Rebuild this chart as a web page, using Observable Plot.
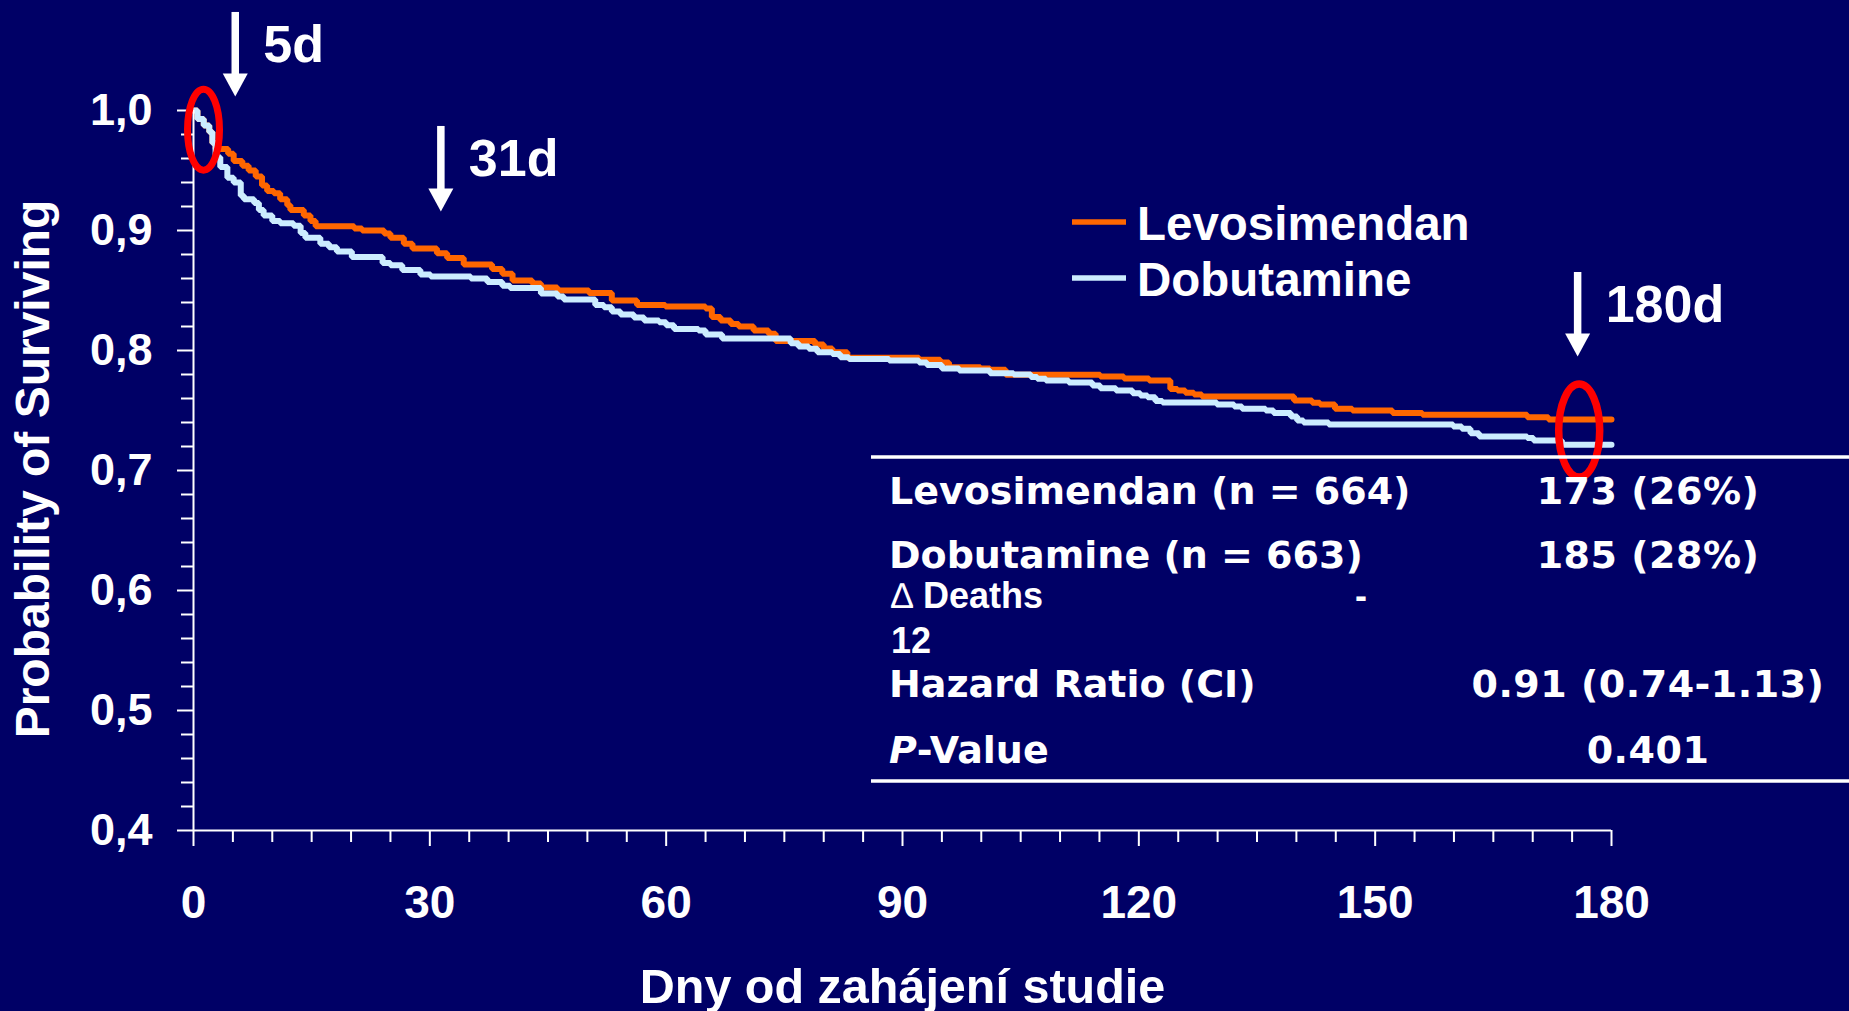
<!DOCTYPE html>
<html>
<head>
<meta charset="utf-8">
<script src="https://cdn.jsdelivr.net/npm/d3@7"></script>
<script src="https://cdn.jsdelivr.net/npm/@observablehq/plot@0.6"></script>
<style>
  html, body { margin: 0; padding: 0; background: #000066; overflow: hidden; }
  #chart { position: relative; width: 1849px; height: 1011px; }
</style>
</head>
<body>
<div id="chart"></div>
<script>
// ---------- DATA ----------
// Kaplan-Meier survival, [day, probability], step-after
const levosimendan = [
  [0,1.0],[0.5,0.993],[1.3,0.9875],[2.0,0.982],[2.4,0.973],[2.8,0.968],[4.4,0.964],[5.1,0.958],
  [6.2,0.954],[7.0,0.95],[7.9,0.945],[8.7,0.9375],[9.35,0.933],[10.2,0.931],[11.0,0.926],[11.9,0.921],
  [12.3,0.917],[14.0,0.9125],[14.85,0.908],[15.5,0.9036],[20.4,0.9017],[21.4,0.900],[24.2,0.8975],
  [25.0,0.894],[26.7,0.889],[27.8,0.885],[30.9,0.881],[32.2,0.877],[34.3,0.8717],[37.9,0.868],
  [39.2,0.864],[40.5,0.8583],[43.0,0.8558],[44.1,0.8525],[46.2,0.85],[50.2,0.848],[53.1,0.8417],
  [56.3,0.838],[59.9,0.8367],[65.0,0.835],[65.8,0.828],[66.9,0.825],[68.2,0.822],[69.2,0.82],
  [71.1,0.8167],[73.0,0.814],[73.9,0.808],[78.9,0.805],[80.0,0.8017],[81.1,0.7986],[83.0,0.794],
  [92.1,0.7922],[94.8,0.790],[95.9,0.786],[99.9,0.785],[101.1,0.784],[103.1,0.7797],[115.1,0.7783],
  [118.1,0.7767],[121.3,0.775],[124.0,0.768],[124.9,0.7667],[125.9,0.7647],[127.0,0.7633],
  [128.0,0.7617],[139.7,0.7583],[142.0,0.7564],[143.0,0.755],[144.9,0.7514],[147.1,0.75],
  [152.2,0.748],[156.0,0.7464],[169.3,0.7444],[172.0,0.7425],[180,0.7425]
];
const dobutamine = [
  [0,1.0],[0.5,0.993],[1.3,0.9875],[2.0,0.982],[2.4,0.973],[2.8,0.961],[3.4,0.953],[4.3,0.944],
  [5.1,0.94],[6.0,0.929],[6.4,0.926],[7.7,0.923],[8.3,0.917],[8.9,0.9125],[10.0,0.908],[11.0,0.906],
  [12.7,0.904],[13.6,0.898],[14.2,0.894],[16.1,0.889],[17.2,0.886],[18.2,0.8825],[20.1,0.878],
  [24.0,0.873],[25.0,0.871],[26.5,0.867],[28.8,0.8633],[30.1,0.8617],[35.2,0.86],[37.3,0.857],
  [39.2,0.854],[40.2,0.852],[44.1,0.8475],[46.2,0.845],[47.0,0.8425],[51.0,0.838],[52.1,0.836],
  [53.1,0.8325],[54.2,0.83],[55.9,0.8275],[57.2,0.825],[59.1,0.8236],[60.0,0.821],[61.0,0.818],
  [64.1,0.8167],[65.0,0.8133],[67.1,0.81],[75.8,0.806],[76.8,0.8033],[78.1,0.8014],[79.2,0.7986],
  [81.1,0.797],[82.1,0.7944],[83.2,0.793],[88.3,0.7917],[92.1,0.79],[93.1,0.788],[95.0,0.785],
  [97.2,0.7833],[101.1,0.781],[104.1,0.78],[106.3,0.778],[107.1,0.7764],[108.2,0.775],[111.1,0.7733],
  [114.1,0.7708],[115.1,0.7686],[117.1,0.7667],[119.2,0.7644],[120.2,0.7625],[121.1,0.761],
  [122.1,0.758],[123.0,0.7567],[129.9,0.755],[132.1,0.7533],[133.1,0.7514],[136.1,0.75],[137.1,0.748],
  [139.3,0.745],[140.1,0.7417],[140.9,0.74],[144.1,0.7383],[159.9,0.7367],[161.0,0.7347],
  [162.1,0.731],[163.2,0.7283],[169.3,0.727],[170.1,0.725],[173.7,0.7214],[180,0.7214]
];
const seriesNames = ["Levosimendan", "Dobutamine"];

const xTicks = [0, 30, 60, 90, 120, 150, 180];
const xTickLabels = ["0", "30", "60", "90", "120", "150", "180"];
const xMinorTicks = [5,10,15,20,25,35,40,45,50,55,65,70,75,80,85,95,100,105,110,115,125,130,135,140,145,155,160,165,170,175];
const yTicks = [0.4, 0.5, 0.6, 0.7, 0.8, 0.9, 1.0];
const yTickLabels = ["0,4", "0,5", "0,6", "0,7", "0,8", "0,9", "1,0"];
const yMinorTicks = [0.42,0.44,0.46,0.48,0.52,0.54,0.56,0.58,0.62,0.64,0.66,0.68,0.72,0.74,0.76,0.78,0.82,0.84,0.86,0.88,0.92,0.94,0.96,0.98];

const xTitle = "Dny od zahájení studie";
const yTitle = "Probability of Surviving";

// arrow annotations (day position, top and tip in probability units)
const arrowLabels = ["5d", "31d", "180d"];
const arrowDays = [5.3, 31.4, 175.7];
const arrowTop = [1.0817, 0.9867, 0.865];
const arrowTip = [1.0117, 0.9158, 0.795];

// red highlight ellipses (day, probability)
const circleDays = [1.27, 175.9];
const circleSurvival = [0.984, 0.7333];

// results table
const tableLabels = ["Levosimendan (n = 664)", "Dobutamine (n = 663)", "Hazard Ratio (CI)", "-Value"];
const tableValues = ["173 (26%)", "185 (28%)", "0.91 (0.74-1.13)", "0.401"];
const deathsLabel = "Deaths";
const deathsValue = ["-", "12"];

// ---------- BUILD ----------
const FONT = "'Liberation Sans', Arial, Helvetica, sans-serif";
const TABLE_FONT = "'DejaVu Sans', Verdana, sans-serif";
const ORANGE = "#FF6600";
const LIGHTBLUE = "#CCECFF";
const BG = "#000066";

const toRows = (arr, name) => arr.map(([day, p]) => ({day, p, series: name}));
const levoData = toRows(levosimendan, seriesNames[0]);
const dobuData = toRows(dobutamine, seriesNames[1]);
const arrows = arrowDays.map((day, i) => ({day, top: arrowTop[i], tip: arrowTip[i], label: arrowLabels[i]}));
const circles = circleDays.map((day, i) => ({day, p: circleSurvival[i]}));
const yLabelOf = new Map(yTicks.map((t, i) => [t, yTickLabels[i]]));
const xLabelOf = new Map(xTicks.map((t, i) => [t, xTickLabels[i]]));

function ellipseSymbol(rx, ry) {
  const k = 0.5522847498;
  return {
    draw(ctx) {
      const kx = rx * k, ky = ry * k;
      ctx.moveTo(rx, 0);
      ctx.bezierCurveTo(rx, ky, kx, ry, 0, ry);
      ctx.bezierCurveTo(-kx, ry, -rx, ky, -rx, 0);
      ctx.bezierCurveTo(-rx, -ky, -kx, -ry, 0, -ry);
      ctx.bezierCurveTo(kx, -ry, rx, -ky, rx, 0);
      ctx.closePath();
    }
  };
}
const arrowHead = {
  draw(ctx) {
    ctx.moveTo(0, 0);
    ctx.lineTo(-12.5, -23);
    ctx.lineTo(12.5, -23);
    ctx.closePath();
  }
};

const plot = Plot.plot({
  width: 1849,
  height: 1011,
  marginLeft: 193,
  marginRight: 238,
  marginTop: 110,
  marginBottom: 181,
  x: {domain: [0, 180], label: null},
  y: {domain: [0.4, 1.0], label: null},
  style: {background: BG, color: "white", fontFamily: FONT, overflow: "visible"},
  marks: [
    Plot.line(levoData, {x: "day", y: "p", curve: "step-after", stroke: ORANGE, strokeWidth: 6, strokeLinejoin: "miter"}),
    Plot.line(dobuData, {x: "day", y: "p", curve: "step-after", stroke: LIGHTBLUE, strokeWidth: 6, strokeLinejoin: "miter"}),
    Plot.ruleX([0], {y1: 0.4, y2: 1.0, stroke: "white", strokeWidth: 2}),
    Plot.ruleY([0.4], {x1: 0, x2: 180, stroke: "white", strokeWidth: 2}),
    Plot.axisY({ticks: yMinorTicks, tickSize: 12, tickFormat: () => "", stroke: "white", strokeWidth: 2}),
    Plot.axisY({ticks: yTicks, tickSize: 16, tickPadding: 25, tickFormat: d => yLabelOf.get(d),
      fontSize: 45, fontWeight: "bold", fontFamily: FONT, color: "white", strokeWidth: 2}),
    Plot.axisX({ticks: xMinorTicks, tickSize: 12, tickFormat: () => "", stroke: "white", strokeWidth: 2}),
    Plot.axisX({ticks: xTicks, tickSize: 16, tickPadding: 39, tickFormat: d => xLabelOf.get(d),
      fontSize: 46, fontWeight: "bold", fontFamily: FONT, color: "white", strokeWidth: 2}),
    Plot.dot([circles[0]], {x: "day", y: "p", r: 10, symbol: ellipseSymbol(16, 40.5), fill: "none", stroke: "red", strokeWidth: 7}),
    Plot.dot([circles[1]], {x: "day", y: "p", r: 10, symbol: ellipseSymbol(20.5, 46.5), fill: "none", stroke: "red", strokeWidth: 7.5}),
    Plot.ruleX(arrows, {x: "day", y1: "top", y2: "tip", insetBottom: 21, stroke: "white", strokeWidth: 7.5}),
    Plot.dot(arrows, {x: "day", y: "tip", r: 10, symbol: arrowHead, fill: "white", stroke: "none"}),
    Plot.text(arrows, {x: "day", y: "top", text: "label", dx: 28, dy: 33, textAnchor: "start", lineAnchor: "middle",
      fontSize: 52, fontWeight: "bold", fontFamily: FONT, fill: "white"})
  ]
});
document.getElementById("chart").appendChild(plot);

// ---------- titles, legend and results table ----------
const svg = d3.select(plot);
const g = svg.append("g").attr("fill", "white").attr("font-weight", "bold").attr("text-anchor", "start");

g.append("text").attr("transform", "translate(49,469) rotate(-90)").attr("text-anchor", "middle")
  .attr("font-family", FONT).attr("font-size", 48).text(yTitle);
g.append("text").attr("x", 902.5).attr("y", 1003).attr("text-anchor", "middle")
  .attr("font-family", FONT).attr("font-size", 48.5).text(xTitle);

// legend
const legendColors = [ORANGE, LIGHTBLUE];
const legendLineY = [222, 278];
const legendTextY = [239.5, 296];
seriesNames.forEach((name, i) => {
  g.append("line").attr("x1", 1072).attr("x2", 1126).attr("y1", legendLineY[i]).attr("y2", legendLineY[i])
    .attr("stroke", legendColors[i]).attr("stroke-width", 5.5);
  g.append("text").attr("x", 1137).attr("y", legendTextY[i]).attr("font-family", FONT).attr("font-size", 47.5).text(name);
});

// table
[457, 781].forEach(y => g.append("line").attr("x1", 871).attr("x2", 1849).attr("y1", y).attr("y2", y)
  .attr("stroke", "white").attr("stroke-width", 3.5));
const rowY = [504, 568.3, 696.7, 763.3];
const tg = g.append("g").attr("font-family", TABLE_FONT).attr("font-size", 38);
tableLabels.forEach((lab, i) => {
  const t = tg.append("text").attr("x", 889).attr("y", rowY[i]);
  if (i === 3) { t.append("tspan").attr("font-style", "italic").text("P"); t.append("tspan").text(lab); }
  else t.text(lab);
  tg.append("text").attr("x", 1648).attr("y", rowY[i]).attr("text-anchor", "middle")
    .attr("letter-spacing", 0.5).text(tableValues[i]);
});
const dg = g.append("g").attr("font-family", FONT).attr("font-size", 36);
const dt = dg.append("text").attr("x", 891).attr("y", 608.3);
dt.append("tspan").attr("font-weight", "normal").text("\u2206");
dt.append("tspan").text(" " + deathsLabel);
dg.append("text").attr("x", 1355).attr("y", 608.3).text(deathsValue[0]);
dg.append("text").attr("x", 891).attr("y", 653.3).text(deathsValue[1]);
</script>
</body>
</html>
